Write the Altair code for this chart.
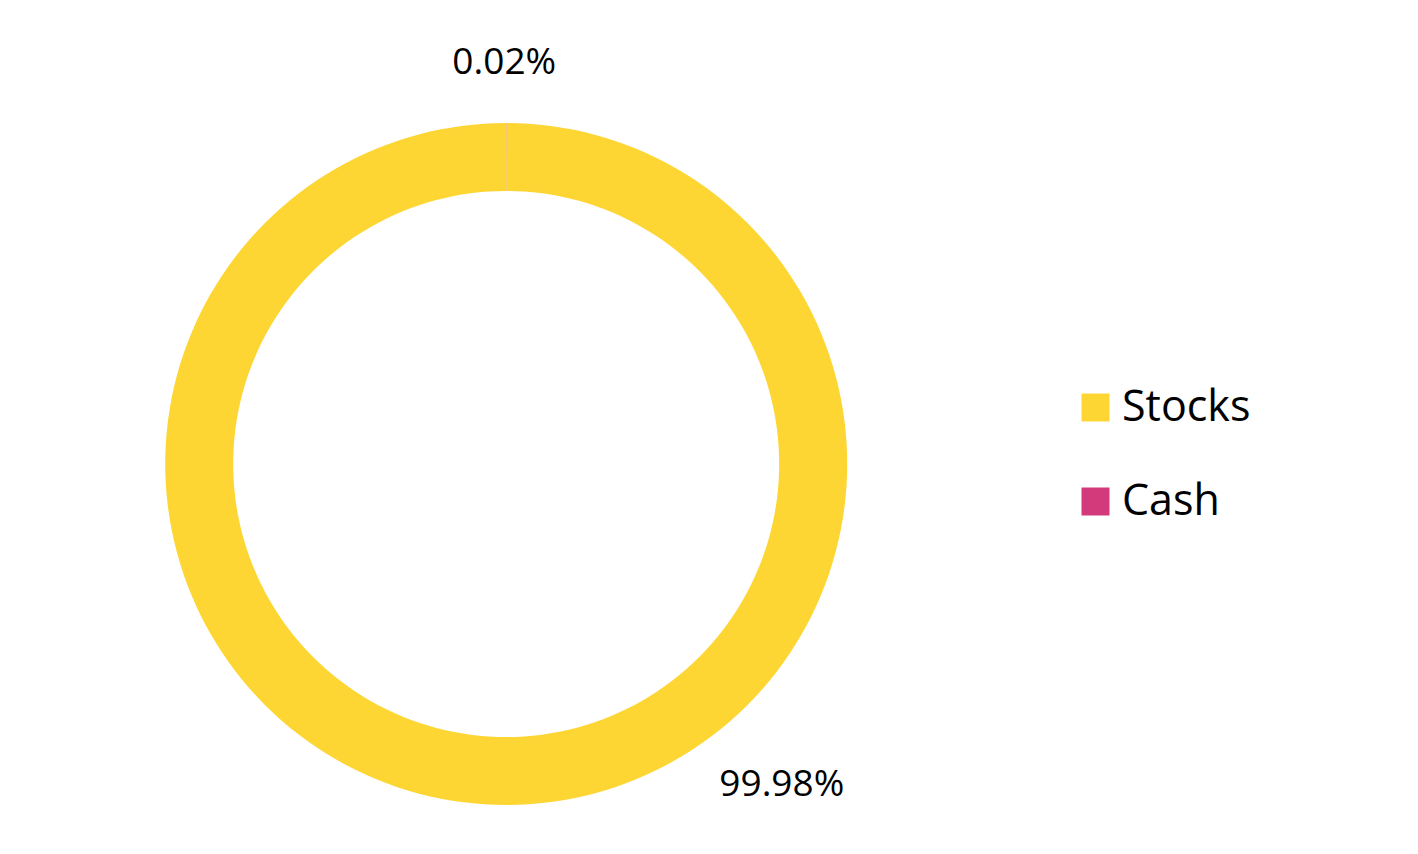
import altair as alt
import pandas as pd

categories = ["Cash", "Stocks"]
values = [0.02, 99.98]
labels = ["0.02%", "99.98%"]
order = [0, 1]
legend_order = ["Stocks", "Cash"]
colors = ["#FED634", "#D23A7C"]

df = pd.DataFrame({"category": categories, "value": values, "label": labels, "order": order})

CX, CY = 498, 456
FONT = "Open Sans"

base = alt.Chart(df)

arc = base.mark_arc(innerRadius=273, outerRadius=341, x=CX, y=CY).encode(
    theta=alt.Theta("value:Q", stack=True),
    order=alt.Order("order:Q"),
    color=alt.Color(
        "category:N",
        scale=alt.Scale(domain=legend_order, range=colors),
        sort=legend_order,
        legend=alt.Legend(
            title=None,
            orient="none",
            legendX=1066,
            legendY=378,
            symbolType="square",
            symbolSize=784,
            symbolStrokeWidth=0,
            labelFont=FONT,
            labelFontSize=43,
            labelColor="black",
            labelOffset=5,
            rowPadding=50,
        ),
    ),
)

lab_base = base.transform_window(
    cum="sum(value)", sort=[alt.SortField("order")], frame=[None, 0]
).transform_calculate(mid="datum.cum - datum.value / 2")

lab_cash = lab_base.transform_filter(alt.datum.category == "Cash").mark_text(
    x=CX, y=CY, radius=401, font=FONT, fontSize=37, color="black", dx=-2
).encode(
    theta=alt.Theta("mid:Q", stack=False, scale=alt.Scale(domain=[0, 100])),
    text="label:N",
)

lab_stocks = lab_base.transform_filter(alt.datum.category == "Stocks").mark_text(
    x=CX, y=CY, radius=321, font=FONT, fontSize=37, color="black", dx=276
).encode(
    theta=alt.Theta("mid:Q", stack=False, scale=alt.Scale(domain=[0, 100])),
    text="label:N",
)

chart = alt.layer(arc, lab_cash, lab_stocks).resolve_scale(theta="independent").properties(
    width=1400, height=836, padding=0, background="white"
).configure_view(stroke=None)

chart.save("out.html", embed_options={"renderer": "svg", "actions": False})
